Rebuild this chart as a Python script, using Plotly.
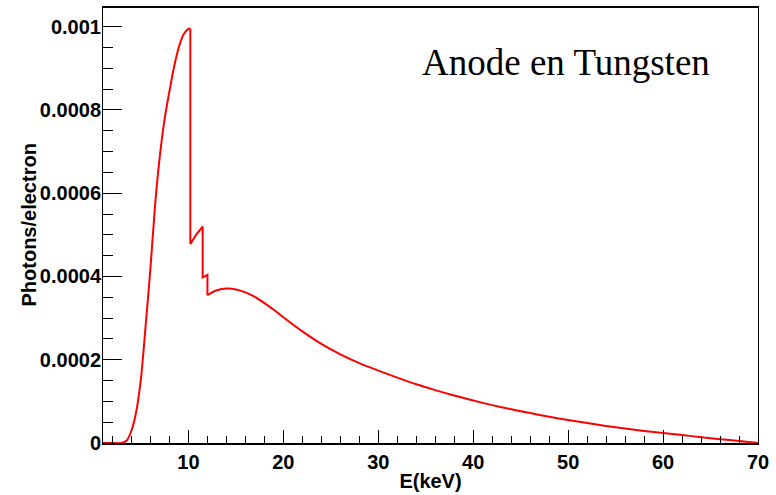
import plotly.graph_objects as go

# Spectrum of an X-ray tube with tungsten anode
energy_kev = [1, 2, 3, 3.5, 4, 4.5, 5, 5.5, 6, 6.5, 7, 7.5, 8, 8.5, 9, 9.5, 10,
              10.2, 10.2, 10.8, 11.5, 11.5, 12.0, 12.0, 12.5, 13, 14, 15, 16, 17,
              18, 19, 20, 22, 24, 26, 28, 30, 32, 34, 36, 38, 40, 42, 44, 46, 48,
              50, 52, 54, 56, 58, 60, 62, 64, 66, 68, 70]
photons_per_electron = [0, 0, 0, 0.000006, 0.000030, 0.000075, 0.000155, 0.000284,
                        0.000420, 0.000575, 0.000692, 0.000780, 0.000845, 0.000905,
                        0.000952, 0.000982, 0.000995,
                        0.000996, 0.000478, 0.000500, 0.000520, 0.000398, 0.000404,
                        0.000355, 0.000362, 0.000367, 0.000371, 0.000369, 0.000362,
                        0.000351, 0.000336, 0.000320, 0.000302, 0.000268, 0.000238,
                        0.000213, 0.000192, 0.000174, 0.000157, 0.000141, 0.000127,
                        0.000114, 0.000102, 0.000091, 0.000081, 0.000072, 0.000063,
                        0.000055, 0.000048, 0.000041, 0.000035, 0.000029, 0.000024,
                        0.000019, 0.000014, 0.000009, 0.000005, 0.000000]

x_title = "E(keV)"
y_title = "Photons/electron"
label_text = "Anode en Tungsten"

# indices of the absorption-edge region (drawn with straight segments)
edge_start = energy_kev.index(10.2)            # peak just before the L3 edge
edge_end = len(energy_kev) - 1 - energy_kev[::-1].index(12.0)  # after L1 edge

line_style = dict(color="#ff0000", width=2)
fig = go.Figure()
segments = [
    (0, edge_start + 1, "spline"),
    (edge_start, edge_end + 1, "linear"),
    (edge_end, len(energy_kev), "spline"),
]
for a, b, shape in segments:
    fig.add_trace(go.Scatter(x=energy_kev[a:b], y=photons_per_electron[a:b],
                             mode="lines",
                             line=dict(**line_style, shape=shape, smoothing=0.8),
                             showlegend=False, hoverinfo="skip"))

tick_font = dict(family="Liberation Sans, Arial, sans-serif", size=20,
                 color="black", weight="bold")

fig.update_layout(
    width=776, height=495,
    margin=dict(l=103, r=18, t=6, b=49),
    paper_bgcolor="white", plot_bgcolor="white",
    xaxis=dict(range=[1, 70], tick0=0, dtick=10, ticks="inside", ticklen=13,
               tickwidth=1, tickcolor="black",
               minor=dict(dtick=2, tick0=0, ticks="inside", ticklen=7,
                          tickcolor="black", tickwidth=1),
               showgrid=False, zeroline=False, showline=True, linecolor="black",
               linewidth=1.5, mirror=True, tickfont=tick_font,
               title=dict(text=x_title, font=tick_font, standoff=2)),
    yaxis=dict(range=[0, 0.001045], tick0=0, dtick=0.0002, tickformat="~g",
               ticks="inside", ticklen=19, tickwidth=1, tickcolor="black",
               minor=dict(dtick=0.00005, tick0=0, ticks="inside", ticklen=10,
                          tickcolor="black", tickwidth=1),
               showgrid=False, zeroline=False, showline=True, linecolor="black",
               linewidth=1, mirror=True, tickfont=tick_font,
               ticklabelstandoff=-3),
    annotations=[
        dict(text=label_text, xref="paper", yref="paper",
             x=(566 - 103) / 655, y=1 - (61 - 6) / 440.5,
             xanchor="center", yanchor="middle", showarrow=False,
             font=dict(family="Liberation Serif, Times New Roman, serif",
                       size=37, color="black")),
        dict(text=y_title, xref="paper", yref="paper",
             x=(28 - 103) / 655, y=0.5, textangle=-90,
             xanchor="center", yanchor="middle", showarrow=False,
             font=tick_font),
    ],
)

fig.write_html("out.html", config={"displayModeBar": False},
               post_script="document.body.style.margin='0';"
                           "document.body.style.overflow='hidden';")
